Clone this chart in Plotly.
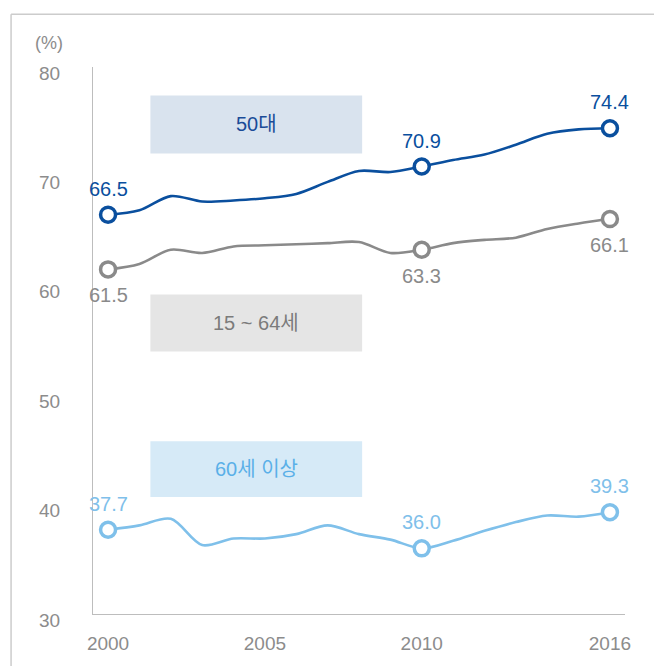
import plotly.graph_objects as go

# Employment rate by age group (%), 2000-2016
years = list(range(2000, 2017))
age_50s = [66.5, 66.9, 68.2, 67.7, 67.8, 68.0, 68.4, 69.5, 70.5, 70.4,
           70.9, 71.5, 72.0, 72.9, 73.9, 74.3, 74.4]
age_15_64 = [61.5, 62.0, 63.3, 63.0, 63.6, 63.7, 63.8, 63.9, 64.0, 63.0,
             63.3, 63.9, 64.2, 64.4, 65.2, 65.7, 66.1]
age_60_plus = [37.7, 38.1, 38.7, 36.3, 36.9, 36.9, 37.3, 38.1, 37.3, 36.8,
               36.0, 36.7, 37.6, 38.4, 39.0, 38.9, 39.3]

marked_years = [2000, 2010, 2016]
x_ticks = [2000, 2005, 2010, 2016]
y_ticks = [30, 40, 50, 60, 70, 80]

series_names = ["50대", "15 ~ 64세", "60세 이상"]
colors = ["#0a4f9e", "#8a8a8a", "#7fc0ea"]
box_fills = ["#d9e3ee", "#e5e5e5", "#d6eaf7"]
box_text_colors = ["#1a4c98", "#7b7b7b", "#5ab0e8"]
label_sides = [1, -1, 1]  # +1 label above the marker, -1 below

FONT = "Liberation Sans, Arial, Noto Sans CJK KR, sans-serif"

fig = go.Figure()

all_series = [age_50s, age_15_64, age_60_plus]
for name, vals, color, side in zip(series_names, all_series, colors, label_sides):
    fig.add_trace(go.Scatter(
        x=years, y=vals, mode="lines", name=name,
        line=dict(color=color, width=2.6, shape="spline", smoothing=0.9),
        hoverinfo="skip", showlegend=False,
    ))
    mv = [vals[years.index(y)] for y in marked_years]
    fig.add_trace(go.Scatter(
        x=marked_years, y=mv, mode="markers", name=name,
        marker=dict(size=15, color="white", line=dict(color=color, width=3.5)),
        showlegend=False,
    ))
    for xv, yv in zip(marked_years, mv):
        fig.add_annotation(
            x=xv, y=yv, text=f"{yv:.1f}", showarrow=False,
            yshift=26 * side, font=dict(family=FONT, size=20, color=color),
        )

# Series name boxes inside the plot
box_y = [(72.1, 77.4), (54.0, 59.2), (40.7, 45.8)]
for (y0, y1), fill, tcolor, name in zip(box_y, box_fills, box_text_colors, series_names):
    fig.add_shape(type="rect", xref="x", yref="y", x0=2001.35, x1=2008.1,
                  y0=y0, y1=y1, fillcolor=fill, line=dict(width=0), layer="below")
    fig.add_annotation(x=(2001.35 + 2008.1) / 2, y=(y0 + y1) / 2, text=name,
                       showarrow=False, font=dict(family=FONT, size=20, color=tcolor))

# Outer frame (left and top edges)
fig.add_shape(type="line", xref="paper", yref="paper", x0=-0.154, x1=-0.154,
              y0=1.0965, y1=-0.2, line=dict(color="#cccccc", width=1.5))
fig.add_shape(type="line", xref="paper", yref="paper", x0=-0.154, x1=1.2,
              y0=1.0965, y1=1.0965, line=dict(color="#cccccc", width=1.5))

fig.add_annotation(xref="paper", yref="paper", x=-0.083, y=1.044, text="(%)",
                   xanchor="center", yanchor="middle", showarrow=False,
                   font=dict(family=FONT, size=18, color="#8c8c8c"))

fig.update_layout(
    width=654, height=666,
    margin=dict(l=93, r=29, t=67, b=50),
    paper_bgcolor="white", plot_bgcolor="white",
    xaxis=dict(range=[1999.52, 2016.48], tickvals=x_ticks, showgrid=False,
               zeroline=False, showline=True, linecolor="#bdbdbd", linewidth=1.2,
               ticks="", ticklabelstandoff=12,
               tickfont=dict(family=FONT, size=19, color="#8c8c8c")),
    yaxis=dict(range=[30, 80], tickvals=y_ticks, showgrid=False,
               zeroline=False, showline=True, linecolor="#bdbdbd", linewidth=1.2,
               ticks="", ticklabelstandoff=28, ticklabelshift=6,
               tickfont=dict(family=FONT, size=19, color="#8c8c8c")),
)

fig.write_html("out.html")
